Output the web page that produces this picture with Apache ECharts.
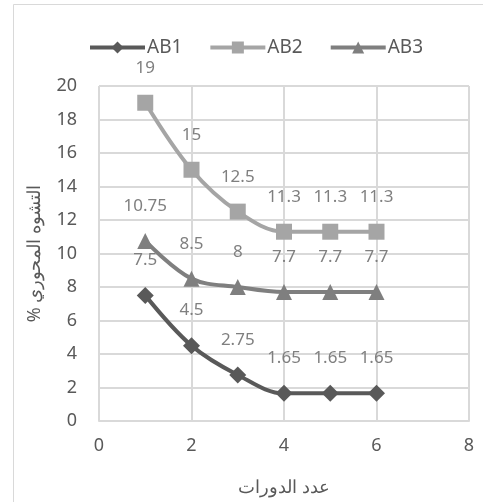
<!DOCTYPE html>
<html><head><meta charset="utf-8">
<script src="https://cdn.jsdelivr.net/npm/echarts@6/dist/echarts.min.js"></script>
<style>html,body{margin:0;padding:0;background:#fff}#c{width:483px;height:502px}</style>
</head><body><div id="c"></div>
<script>
const cycles = [1, 2, 3, 4, 5, 6];
const ab1 = [7.5, 4.5, 2.75, 1.65, 1.65, 1.65];
const ab2 = [19, 15, 12.5, 11.3, 11.3, 11.3];
const ab3 = [10.75, 8.5, 8, 7.7, 7.7, 7.7];
const seriesNames = ['AB1', 'AB2', 'AB3'];
const xTitle = 'عدد الدورات';
const yTitle = 'التشوه المحوري %';

const font = '"Noto Sans", sans-serif';
function mk(name, vals, color, symbol) {
  return {
    name: name, type: 'line', smooth: 0.35,
    data: cycles.map((c, i) => [c, vals[i]]),
    symbol: symbol, symbolSize: symbol === 'diamond' ? 17 : 16,
    showAllSymbol: true,
    lineStyle: { color: color, width: 4 },
    itemStyle: { color: color },
    label: { show: true, position: 'top', distance: 18, color: '#7f7f7f', fontSize: 17, fontFamily: font,
      formatter: p => String(p.value[1]) },
    emphasis: { disabled: true }
  };
}
const chart = echarts.init(document.getElementById('c'), null, { renderer: 'canvas' });
chart.setOption({
  animation: false,
  backgroundColor: '#fff',
  graphic: [{ type: 'rect', shape: { x: 13.5, y: 4.5, width: 480, height: 510 }, style: { fill: 'none', stroke: '#d9d9d9', lineWidth: 1 } }],
  legend: {
    data: seriesNames, top: 33, left: 83, itemWidth: 55, itemHeight: 15, itemGap: 26,
    lineStyle: { width: 4 },
    textStyle: { fontSize: 19, color: '#595959', fontFamily: font, padding: [0, 0, 0, -3] }
  },
  grid: { left: 99, right: 14, top: 86, bottom: 81 },
  xAxis: {
    type: 'value', min: 0, max: 8, interval: 2,
    name: xTitle, nameLocation: 'middle', nameGap: 58,
    nameTextStyle: { fontSize: 18, color: '#595959', fontFamily: font },
    axisLine: { show: true, lineStyle: { color: '#d9d9d9', width: 2 } },
    axisTick: { show: false },
    axisLabel: { fontSize: 18, color: '#595959', fontFamily: font, margin: 16 },
    splitLine: { show: true, lineStyle: { color: '#d9d9d9', width: 2 } }
  },
  yAxis: {
    type: 'value', min: 0, max: 20, interval: 2,
    name: yTitle + '\u200F', nameLocation: 'middle', nameGap: 55, nameRotate: 90,
    nameTextStyle: { fontSize: 18, color: '#595959', fontFamily: font },
    axisLine: { show: false },
    axisTick: { show: false },
    axisLabel: { fontSize: 18, color: '#595959', fontFamily: font, margin: 22 },
    splitLine: { show: true, lineStyle: { color: '#d9d9d9', width: 2 } }
  },
  series: [
    mk('AB1', ab1, '#595959', 'diamond'),
    mk('AB2', ab2, '#a5a5a5', 'rect'),
    mk('AB3', ab3, '#7f7f7f', 'triangle')
  ]
});
</script></body></html>
